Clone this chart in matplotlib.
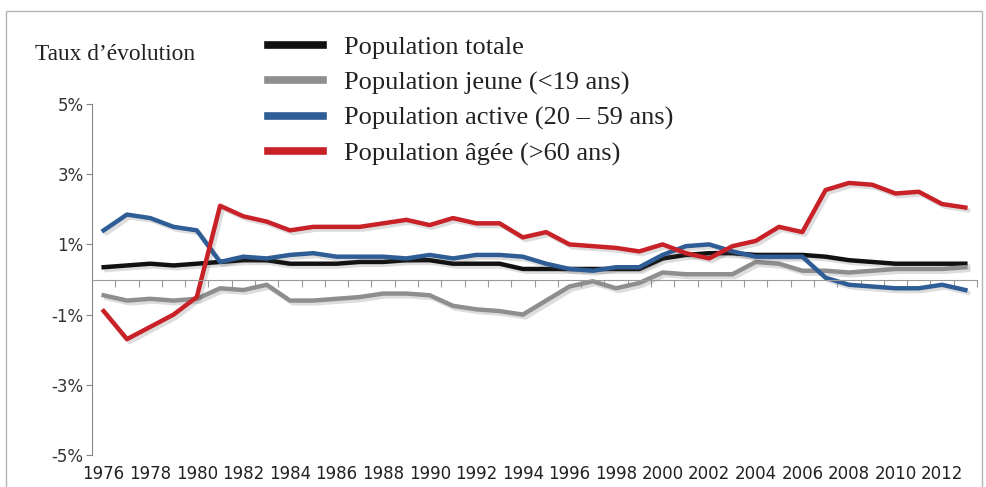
import numpy as np
import matplotlib
matplotlib.use('Agg')
import matplotlib.pyplot as plt
import matplotlib.patheffects as pe
from matplotlib.patches import Rectangle

# Data (taux d'evolution, %)
years = np.arange(1976, 2014)
totale = [0.35, 0.4, 0.45, 0.4, 0.45, 0.5, 0.55, 0.55, 0.45, 0.45,
          0.45, 0.5, 0.5, 0.55, 0.55, 0.45, 0.45, 0.45, 0.3, 0.3,
          0.3, 0.3, 0.3, 0.3, 0.6, 0.7, 0.75, 0.75, 0.7, 0.7,
          0.7, 0.65, 0.55, 0.5, 0.45, 0.45, 0.45, 0.45]
jeune = [-0.45, -0.6, -0.55, -0.6, -0.55, -0.25, -0.3, -0.15, -0.6, -0.6,
         -0.55, -0.5, -0.4, -0.4, -0.45, -0.75, -0.85, -0.9, -1.0, -0.6,
         -0.2, -0.05, -0.25, -0.1, 0.2, 0.15, 0.15, 0.15, 0.5, 0.45,
         0.25, 0.25, 0.2, 0.25, 0.3, 0.3, 0.3, 0.35]
active = [1.4, 1.85, 1.75, 1.5, 1.4, 0.5, 0.65, 0.6, 0.7, 0.75,
          0.65, 0.65, 0.65, 0.6, 0.7, 0.6, 0.7, 0.7, 0.65, 0.45,
          0.3, 0.25, 0.35, 0.35, 0.7, 0.95, 1.0, 0.8, 0.65, 0.65,
          0.65, 0.05, -0.15, -0.2, -0.25, -0.25, -0.15, -0.3]
agee = [-0.9, -1.7, -1.35, -1.0, -0.5, 2.1, 1.8, 1.65, 1.4, 1.5,
        1.5, 1.5, 1.6, 1.7, 1.55, 1.75, 1.6, 1.6, 1.2, 1.35,
        1.0, 0.95, 0.9, 0.8, 1.0, 0.75, 0.6, 0.95, 1.1, 1.5,
        1.35, 2.55, 2.75, 2.7, 2.45, 2.5, 2.15, 2.05]

labels = ['Population totale', 'Population jeune (<19 ans)',
          'Population active (20 – 59 ans)', 'Population âgée (>60 ans)']
colors = ['#111111', '#8e8e8e', '#2f5d96', '#c82128']

serif = ['Liberation Serif', 'DejaVu Serif']
sans = ['DejaVu Sans']

fig = plt.figure(figsize=(9.86, 4.87), dpi=100)
ax = fig.add_axes([92/986, 1-455/487, 885/986, 351/487])

shadow = [pe.SimpleLineShadow(offset=(2, -2), alpha=0.18, shadow_color='#444444'),
          pe.Normal()]
for vals, lab, col in zip([totale, jeune, active, agee], labels, colors):
    ax.plot(years, vals, color=col, lw=3.2, label=lab,
            solid_joinstyle='round', path_effects=shadow)

ax.set_xlim(1975.5, 2013.5)
ax.set_ylim(-5, 5)

# y axis
ax.set_yticks([5, 3, 1, -1, -3, -5])
ax.set_yticklabels(['5%', '3%', '1%', '-1%', '-3%', '-5%'],
                   family=sans, fontsize=12, color='#333333')
ax.tick_params(axis='y', length=4, color='#888888', pad=2)

# x axis on zero line
for s in ['top', 'right']:
    ax.spines[s].set_visible(False)
ax.spines['left'].set_color('#888888')
ax.spines['bottom'].set_position(('data', 0))
ax.spines['bottom'].set_color('#999999')
ax.set_xticks(np.arange(1976.5, 2014, 1))
ax.set_xticklabels([])
ax.tick_params(axis='x', length=5, color='#999999')
for y in years[::2]:
    ax.text(y, -0.055, str(y), transform=ax.get_xaxis_transform(),
            ha='center', va='center', family=sans, fontsize=12, color='#222222')

fig.text(35/986, 1-55/487, 'Taux d\u2019évolution', family=serif,
         fontsize=16.8, va='center', ha='left', color='#222222')

leg = fig.legend(loc='upper left', bbox_to_anchor=(244/986, 1-12/487),
                 frameon=False, prop={'family': serif, 'size': 19},
                 handlelength=2.08, labelspacing=0.44, handletextpad=0.8)
for h in leg.get_lines():
    h.set_linewidth(5.5)
    h.set_path_effects([])
for t in leg.get_texts():
    t.set_color('#222222')

fig.patches.append(Rectangle((6/986, -0.05), 976/986, 1.05-11/487,
                             transform=fig.transFigure, fill=False,
                             edgecolor='#b5b5b5', lw=1))

fig.savefig('out.png', dpi=100)
